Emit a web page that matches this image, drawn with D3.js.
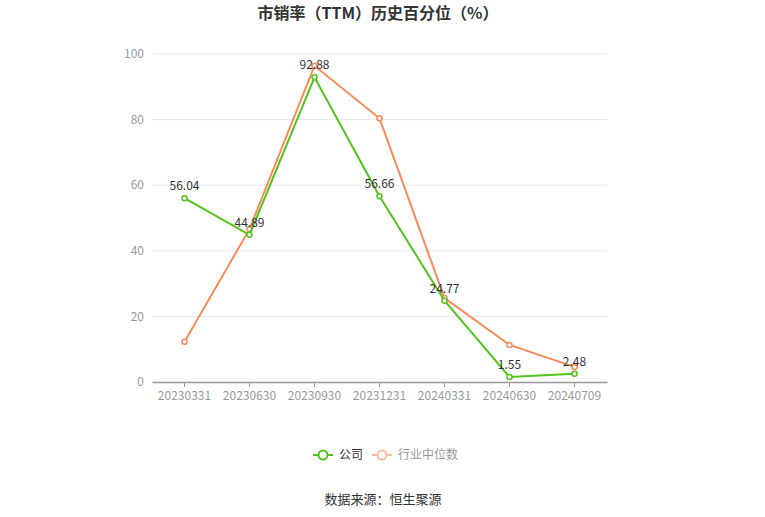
<!DOCTYPE html>
<html>
<head>
<meta charset="utf-8">
<script src="https://cdn.jsdelivr.net/npm/d3@7"></script>
<style>
  body { margin: 0; background: #fff; }
  text { font-family: "Microsoft YaHei", "Noto Sans CJK SC", sans-serif; }
</style>
</head>
<body>
<div id="chart"></div>
<script>
// data
const dates = ["20230331", "20230630", "20230930", "20231231", "20240331", "20240630", "20240709"];
const company = [56.04, 44.89, 92.88, 56.66, 24.77, 1.55, 2.48];
const industry = [12.3, 46.6, 96.4, 80.4, 25.6, 11.3, 4.6];
const yTicks = [0, 20, 40, 60, 80, 100];

const W = 765, H = 517;
const margin = {top: 54, left: 152, right: 158, bottom: 135};

const green = "#52c41a", orange = "#f98b5a";

const svg = d3.select("#chart").append("svg")
  .attr("width", W).attr("height", H);

let x = d3.scaleBand()
  .domain(dates)
  .range([margin.left, W - margin.right]);

let y = d3.scaleLinear()
  .domain([0, 100])
  .range([H - margin.bottom, margin.top]);

// title
svg.append("text")
  .attr("x", 378).attr("y", 19)
  .attr("text-anchor", "middle")
  .attr("font-size", 16).attr("font-weight", "bold")
  .attr("fill", "#333")
  .text("市销率（TTM）历史百分位（%）");

// grid
svg.append("g")
  .selectAll("line")
  .data(yTicks.filter(d => d > 0))
  .join("line")
  .attr("x1", margin.left).attr("x2", W - margin.right)
  .attr("y1", d => y(d)).attr("y2", d => y(d))
  .attr("stroke", "#e6e9f0");

// y labels
svg.append("g")
  .selectAll("text")
  .data(yTicks)
  .join("text")
  .attr("x", 144).attr("y", d => y(d))
  .attr("dy", "0.35em")
  .attr("text-anchor", "end")
  .attr("font-size", 12).attr("fill", "#999")
  .text(d => d);

// x axis
const xAxis = svg.append("g")
  .attr("transform", `translate(0,${y(0)})`)
  .call(d3.axisBottom(x).tickSize(5).tickSizeOuter(0).tickPadding(4));
xAxis.select(".domain").attr("stroke", "#999").attr("stroke-width", 1.5);
xAxis.selectAll(".tick line").attr("stroke", "#999");
xAxis.selectAll(".tick text")
  .attr("font-size", 12).attr("fill", "#999")
  .attr("font-family", "\"Microsoft YaHei\", \"Noto Sans CJK SC\", sans-serif");

const cx = d => x(d) + x.bandwidth() / 2;

function drawSeries(vals, color) {
  const pts = dates.map((d, i) => ({d, v: vals[i]}));
  svg.append("path")
    .datum(pts)
    .attr("fill", "none")
    .attr("stroke", color)
    .attr("stroke-width", 2)
    .attr("d", d3.line().x(p => cx(p.d)).y(p => y(p.v)));
  svg.append("g")
    .selectAll("circle")
    .data(pts)
    .join("circle")
    .attr("cx", p => cx(p.d)).attr("cy", p => y(p.v))
    .attr("r", 2.5)
    .attr("fill", "#fff")
    .attr("stroke", color).attr("stroke-width", 1.5);
  return pts;
}

drawSeries(industry, orange);
const cp = drawSeries(company, green);

// company labels
svg.append("g")
  .selectAll("text")
  .data(cp)
  .join("text")
  .attr("x", p => cx(p.d)).attr("y", p => y(p.v) - 8)
  .attr("text-anchor", "middle")
  .attr("font-size", 12).attr("fill", "#333")
  .text(p => p.v.toFixed(2));

// legend
const legend = [
  {name: "公司", color: green, text: "#333", x: 313},
  {name: "行业中位数", color: "#fbbfa4", text: "#999", x: 372}
];
const lg = svg.append("g").selectAll("g").data(legend).join("g")
  .attr("transform", d => `translate(${d.x},455)`);
lg.append("line")
  .attr("x1", 0).attr("x2", 20)
  .attr("stroke", d => d.color).attr("stroke-width", 2);
lg.append("circle")
  .attr("cx", 10).attr("r", 4.5)
  .attr("fill", "#fff")
  .attr("stroke", d => d.color).attr("stroke-width", 2);
lg.append("text")
  .attr("x", 26).attr("dy", "0.35em")
  .attr("font-size", 12).attr("fill", d => d.text)
  .text(d => d.name);

// source
svg.append("text")
  .attr("x", 383).attr("y", 504)
  .attr("text-anchor", "middle")
  .attr("font-size", 13).attr("fill", "#333")
  .text("数据来源：恒生聚源");
</script>
</body>
</html>
